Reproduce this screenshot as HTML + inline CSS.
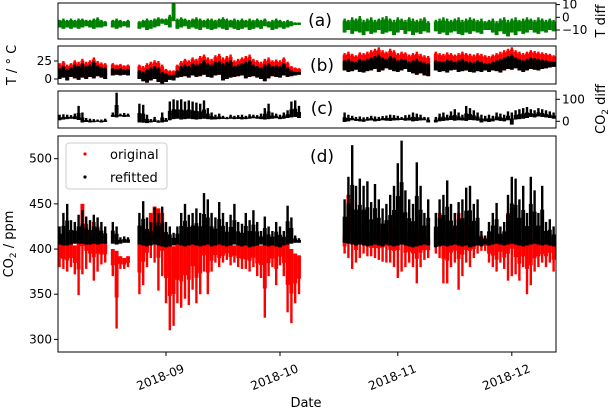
<!DOCTYPE html>
<html><head><meta charset="utf-8"><style>
html,body{margin:0;padding:0;background:#fff;}
svg text{font-family:"DejaVu Sans","Liberation Sans",sans-serif;fill:#000;}
</style></head><body>
<svg id="chart" width="609" height="411" viewBox="0 0 609 411" xmlns="http://www.w3.org/2000/svg"></svg>
<script>
// categories: day segments (days relative to 2018-09-01)
const segments=[[-28,-16],[-14,-10],[-7,35],[47,69],[71,84],[85,102]];
// panel (d) CO2 ppm
const refMax=[425,440,450,432,430,438,443,436,432,438,435,430,425, 430,425,413,414,413,
440,453,435,430,446,440,447,430,425,418,425,440,450,438,440,445,440,462,455,440,435,452,440,430,438,450,430,428,440,432,443,430,420,436,425,420,430,425,420,448,435,415,412,
455,480,515,470,478,470,475,452,472,455,445,450,460,470,495,520,465,455,450,496,470,440,455,
440,455,460,476,450,440,452,455,468,470,450,455,420,415,
430,440,451,425,430,460,480,478,455,470,440,480,465,440,470,430,433,425];
const refMin=[405,404,404,405,406,406,406,405,405,406,405,406,406, 406,405,406,407,407,
405,404,403,404,405,404,403,402,403,404,405,404,403,404,405,404,403,404,405,403,404,405,404,403,404,405,404,403,404,402,403,404,405,404,403,404,403,402,404,405,406,407,407,
407,406,405,404,405,404,403,404,405,404,403,405,404,403,404,405,404,403,402,403,404,405,404,
402,403,404,403,404,405,404,403,404,402,403,404,403,405,
404,405,406,405,404,405,406,405,404,403,404,405,406,405,404,405,404,403];
const origMax=[405,405,406,405,404,420,450,428,410,430,425,410,408, 400,398,392,390,392,
410,425,420,440,447,445,440,410,405,403,405,408,410,408,420,410,408,420,410,405,406,405,404,406,405,404,405,406,404,405,406,405,404,405,406,404,405,406,407,406,400,395,393,
415,460,455,420,430,425,420,415,418,420,425,430,420,425,445,465,420,415,418,430,420,415,412,
420,440,430,425,420,418,440,430,420,425,415,420,415,412,
410,412,408,415,410,440,446,420,412,410,420,415,412,410,408,410,412,408];
const origMin=[380,378,375,380,372,349,372,378,385,365,375,383,385, 370,312,378,378,380,
350,360,380,390,385,354,370,340,310,315,340,335,345,338,355,340,350,375,350,375,385,380,385,388,382,385,380,378,378,375,380,370,368,324,370,380,360,382,370,330,318,340,350,
395,390,378,385,390,395,392,392,390,388,386,385,385,380,368,375,380,385,380,362,380,388,390,
395,390,362,362,380,385,355,370,385,380,390,395,398,398,
385,380,375,385,378,365,370,372,365,380,350,360,375,380,385,380,385,375];
// panel (a) T diff
const tdMin=[-8,-9,-8,-9,-8,-9,-8,-7,-8,-9,-8,-8,-7, -8,-9,-8,-7,-8,
-9,-8,-10,-9,-8,-7,-5,-6,-8,-3,-9,-8,-7,-9,-8,-9,-10,-8,-9,-10,-9,-8,-9,-10,-8,-9,-10,-9,-8,-10,-9,-8,-9,-7,-8,-10,-9,-8,-9,-8,-7,-6,-6,
-12,-10,-13,-11,-12,-14,-11,-13,-12,-10,-13,-12,-11,-14,-12,-10,-13,-11,-14,-12,-13,-11,-12,
-11,-13,-12,-14,-12,-11,-13,-14,-12,-13,-11,-12,-13,-10,
-10,-12,-14,-11,-13,-15,-12,-14,-11,-13,-12,-10,-12,-13,-11,-12,-10,-11];
const tdMax=[-2,-1,-2,-1,-2,-1,-1,-2,-2,-1,0,-2,-3, -2,-1,-2,-3,-2,
-3,-2,-1,-2,-1,0,-1,-1,2,13,-1,0,-1,-2,-1,0,-1,-2,-1,-1,-2,-1,0,-1,-2,-1,-2,-1,-2,-1,-2,-1,-2,-1,-3,-2,-1,-2,-3,-2,-3,-4,-4,
-1,-2,0,-1,1,-2,-1,0,-2,-1,0,1,-1,-2,0,-1,-2,0,-1,-2,-1,0,-3,
-2,-1,0,-1,-2,-1,0,-2,-1,0,-1,-2,-1,-3,
-2,-1,-3,-1,0,-2,-1,0,-2,-1,0,-1,-2,0,-1,-2,-1,-2];
// panel (b) temperature
const tOrigMax=[22,25,20,22,26,24,28,24,26,30,25,23,22, 22,20,21,19,20,
20,18,22,24,26,25,20,14,12,12,20,25,28,26,30,28,32,34,30,28,33,35,30,32,34,26,28,30,32,34,28,26,24,28,30,26,27,26,30,24,18,16,15,
36,38,35,33,37,36,38,40,42,44,40,38,42,40,36,38,37,34,36,38,35,33,32,
38,36,35,37,36,34,36,38,36,35,34,36,35,33,
32,34,36,38,40,42,44,40,38,36,38,40,39,38,37,36,35,33];
const tRefMax=[15,18,14,16,20,18,22,18,20,25,19,17,16, 15,14,15,13,14,
12,10,14,16,18,16,10,8,6,6,12,18,20,18,22,20,22,26,22,20,24,25,22,24,26,18,20,22,24,26,20,18,16,20,22,18,19,18,22,16,12,10,10,
26,28,25,24,28,26,28,30,32,34,30,28,32,30,26,28,27,24,26,28,25,23,22,
26,25,24,27,26,24,26,28,25,24,23,26,24,22,
22,24,26,28,30,32,34,30,28,26,28,30,29,28,27,26,25,24];
const tRefMin=[0,2,-2,3,1,-1,2,0,3,1,4,2,0, 5,6,5,6,5,
0,-3,-5,-2,0,-4,-6,-4,-1,-2,2,3,4,2,5,3,4,6,3,2,5,6,-2,0,2,3,4,5,1,3,4,2,0,-3,1,4,3,2,5,3,4,5,6,
12,10,11,13,10,9,11,12,14,10,12,15,13,11,10,12,14,10,8,6,8,5,4,
12,10,11,9,12,13,10,11,12,10,9,11,10,12,
10,12,11,9,12,14,13,15,12,10,12,14,13,12,14,15,16,17];
// panel (c) CO2 diff
const cdMin=[5,8,10,12,10,6,-5,-3,-5,-4,-2,-5,-3, 20,18,22,20,21,
-5,-6,-8,-5,-3,-6,-5,-2,5,10,12,8,10,12,10,8,10,12,10,8,9,10,11,10,12,10,11,9,10,12,14,12,10,8,10,12,14,10,12,15,18,20,15,
-3,0,5,2,0,-2,3,4,0,2,5,3,2,4,5,6,3,4,0,2,4,5,-5,
-5,0,2,4,6,3,5,4,2,6,5,3,-5,0,
-3,0,5,2,0,5,-15,8,10,12,15,20,18,22,20,18,15,12];
const cdMax=[30,32,30,28,35,70,40,15,12,10,8,8,12, 40,130,35,38,35,
80,75,30,10,20,5,40,15,90,100,95,100,90,95,90,85,80,95,60,40,30,35,25,20,30,25,28,30,25,32,30,28,35,60,80,40,35,30,40,50,90,95,70,
40,30,25,20,22,18,20,25,22,20,24,26,30,28,25,20,28,30,40,35,30,20,18,
20,35,40,30,45,55,40,30,70,60,50,40,30,25,
30,25,40,35,30,45,40,50,55,60,65,55,50,60,55,50,45,40];
const xTickDays=[0,30,61,91];
const xTickLabels=["2018-09","2018-10","2018-11","2018-12"];
const co2Ticks=[300,350,400,450,500];
const tTicks=[0,25];
const tdTicks=[-10,0,10];
const cdTicks=[0,100];

const days=[];
segments.forEach(s=>{for(let d=s[0];d<=s[1];d++)days.push(d);});

const NS="http://www.w3.org/2000/svg";
const svg=document.getElementById('chart');
function el(tag,attrs,parent){const e=document.createElementNS(NS,tag);for(const k in attrs)e.setAttribute(k,attrs[k]);(parent||svg).appendChild(e);return e;}
const X0=58,X1=556;
const x=d=>166+3.8*d;
const DW=3.9;
const SW=2.4;
const yD=v=>158.7+(500-v)*0.9035;
const yA=v=>17.3-v*1.27;
const yB=v=>79-v*0.72;
const yC=v=>121.3-v*0.22;

// base = dense side; tip = sparse spike side. bodyFrac: portion of range drawn full width
function bars(name,base,tip,yf,color,clipId,bodyFrac){
  const g=el('g',{'clip-path':'url(#'+clipId+')'});
  
  
  days.forEach((d,i)=>{
    const yb=yf(base[i]),yt=yf(tip[i]);
    const ym=yb+(yt-yb)*bodyFrac;
    const r=el('rect',{x:x(d)-DW/2,y:Math.min(yb,ym),width:DW,height:Math.max(1,Math.abs(ym-yb)),fill:color},g);
    
    
    const s=el('rect',{x:x(d)-SW/2,y:Math.min(yb,yt),width:SW,height:Math.max(1,Math.abs(yt-yb)),fill:color},g);
    
    
  });
}
function panel(name,y0,y1){
  const cp=el('clipPath',{id:'clip-'+name});
  el('rect',{x:X0,y:y0,width:X1-X0,height:y1-y0},cp);
}
function frame(name,y0,y1){
  const r=el('rect',{x:X0,y:y0,width:X1-X0,height:y1-y0,fill:'none',stroke:'#000','stroke-width':1});
  
  
}
function text(str,attrs,name){const t=el('text',attrs);t.textContent=str;return t;}

panel('a',3,39);panel('b',46,84);panel('c',91,128);panel('d',136,352);

// panel a
bars('tdiff-series',tdMin,tdMax,yA,'#008000','clip-a',0.85);
frame('panel-a',3,39);
tdTicks.forEach(v=>{el('line',{x1:X1,x2:X1+4,y1:yA(v),y2:yA(v),stroke:'#000'});
 text(v<0?'\u2212'+Math.abs(v):String(v),{x:X1+6,y:yA(v)+4,'font-size':12},'tdiff-tick-label');});
text('T diff',{x:605,y:21,'font-size':13,'text-anchor':'middle',transform:'rotate(-90 605 21)'},'tdiff-axis-title');
text('(a)',{x:320,y:26,'font-size':17,'text-anchor':'middle'},'panel-a-label');

// panel b
bars('temp-original-series',tRefMin,tOrigMax,yB,'#ff0000','clip-b',0.9);
bars('temp-refitted-series',tRefMin,tRefMax,yB,'#000000','clip-b',0.9);
frame('panel-b',46,84);
tTicks.forEach(v=>{el('line',{x1:X0-4,x2:X0,y1:yB(v),y2:yB(v),stroke:'#000'});
 text(String(v),{x:X0-6,y:yB(v)+4,'font-size':12,'text-anchor':'end'},'temp-tick-label');});
text('T / \u00b0 C',{x:16,y:65,'font-size':13,'text-anchor':'middle',transform:'rotate(-90 16 65)'},'temp-axis-title');
text('(b)',{x:322,y:71,'font-size':17,'text-anchor':'middle'},'panel-b-label');

// panel c
bars('co2diff-series',cdMin,cdMax,yC,'#000000','clip-c',0.5);
frame('panel-c',91,128);
cdTicks.forEach(v=>{el('line',{x1:X1,x2:X1+4,y1:yC(v),y2:yC(v),stroke:'#000'});
 text(String(v),{x:X1+6,y:yC(v)+4,'font-size':12},'co2diff-tick-label');});
const cdt=text('CO',{x:605,y:109,'font-size':13,'text-anchor':'middle',transform:'rotate(-90 605 109)'},'co2diff-axis-title');
cdt.innerHTML='CO<tspan font-size="9" dy="3">2</tspan><tspan dy="-3"> diff</tspan>';
text('(c)',{x:322,y:114,'font-size':17,'text-anchor':'middle'},'panel-c-label');

// panel d
bars('co2-original-series',origMax,origMin,yD,'#ff0000','clip-d',0.6);
bars('co2-refitted-series',refMin,refMax,yD,'#000000','clip-d',0.6);
frame('panel-d',136,352);
co2Ticks.forEach(v=>{el('line',{x1:X0-4,x2:X0,y1:yD(v),y2:yD(v),stroke:'#000'});
 text(String(v),{x:X0-6,y:yD(v)+4,'font-size':12,'text-anchor':'end'},'co2-tick-label');});
const ct=text('CO',{x:13,y:244,'font-size':13,'text-anchor':'middle',transform:'rotate(-90 13 244)'},'co2-axis-title');
ct.innerHTML='CO<tspan font-size="9" dy="3">2</tspan><tspan dy="-3"> / ppm</tspan>';
text('(d)',{x:322,y:162,'font-size':17,'text-anchor':'middle'},'panel-d-label');
xTickDays.forEach((d,i)=>{const xx=x(d);el('line',{x1:xx,x2:xx,y1:352,y2:356,stroke:'#000'});
 text(xTickLabels[i],{x:xx-4,y:381,'font-size':12,'text-anchor':'middle',transform:'rotate(-22 '+(xx-4)+' 381)'},'x-tick-label');});
text('Date',{x:306,y:407,'font-size':13,'text-anchor':'middle'},'x-axis-title');

// legend
const lg=el('g',{});


el('rect',{x:66,y:143,width:101,height:46,rx:3,fill:'#fff',stroke:'#ccc'},lg);
el('circle',{cx:85,cy:154,r:1.6,fill:'#ff0000'},lg);
el('circle',{cx:85,cy:177,r:1.6,fill:'#000'},lg);
const t1=el('text',{x:110,y:159,'font-size':13},lg);t1.textContent='original';

const t2=el('text',{x:110,y:182,'font-size':13},lg);t2.textContent='refitted';

</script>
</body></html>
